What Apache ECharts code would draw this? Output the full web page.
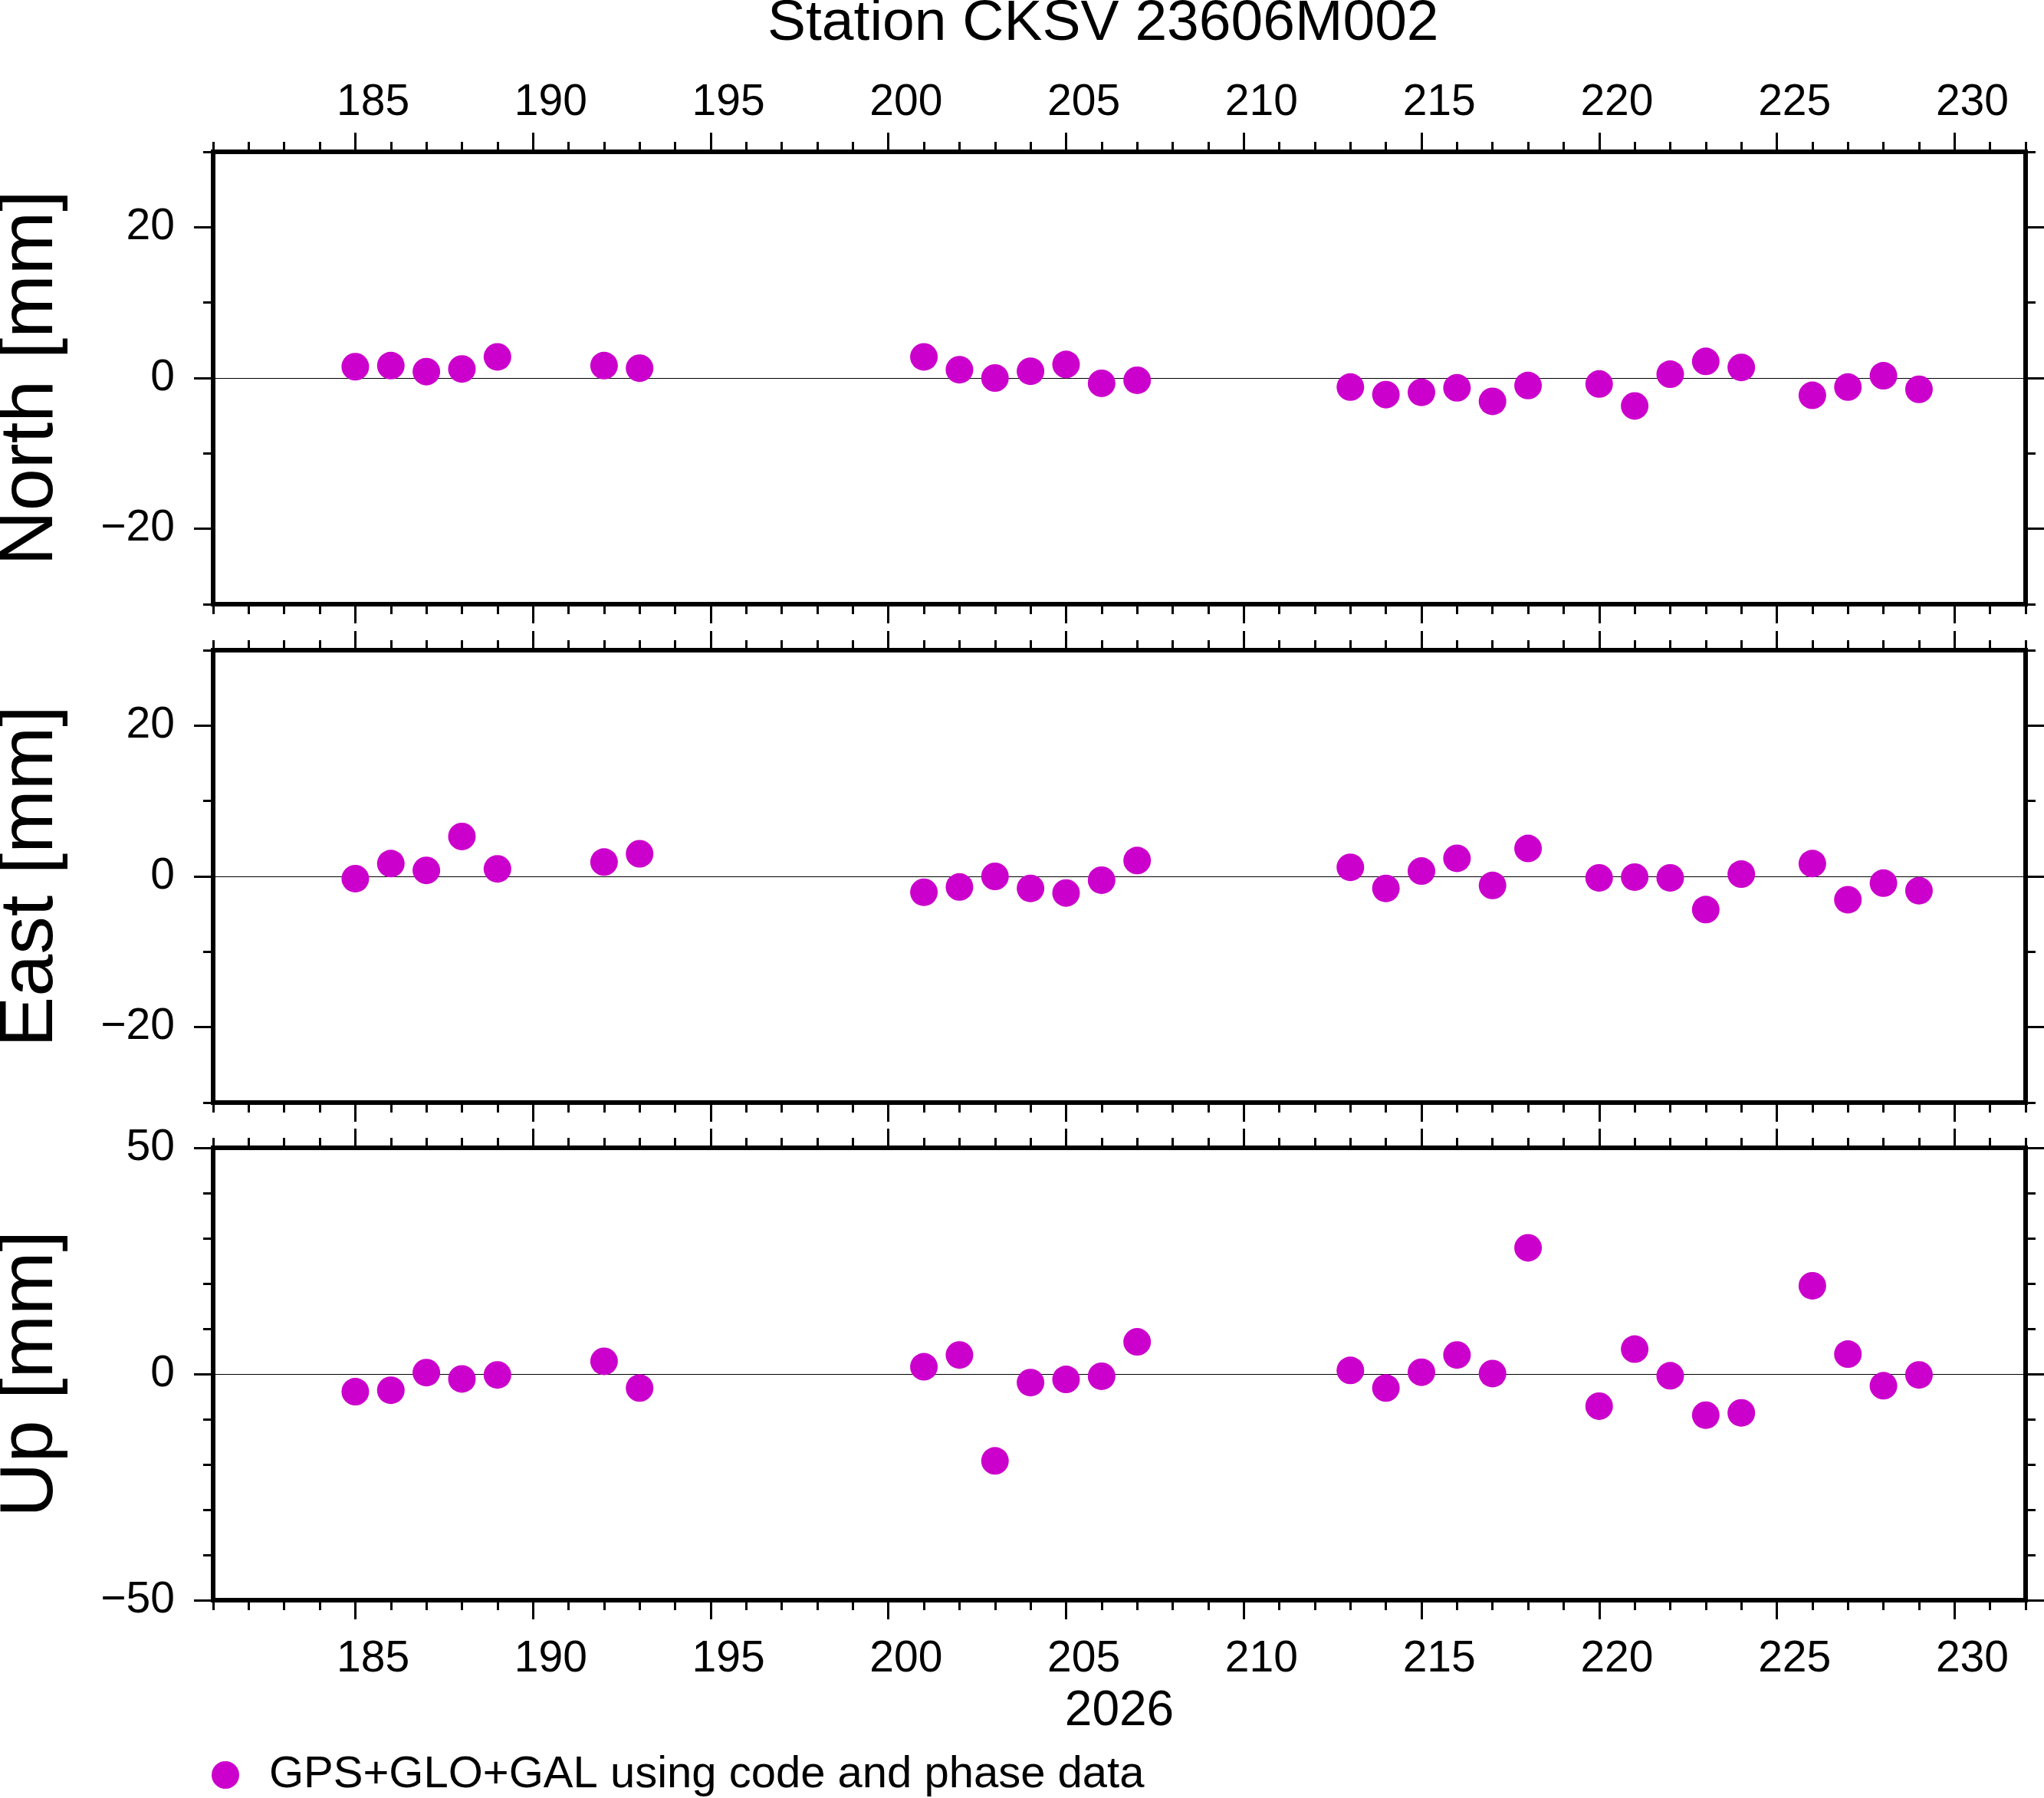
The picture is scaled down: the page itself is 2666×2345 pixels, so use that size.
<!DOCTYPE html>
<html><head><meta charset="utf-8">
<script src="https://cdn.jsdelivr.net/npm/echarts@6/dist/echarts.min.js"></script>
<style>html,body{margin:0;padding:0;background:#fff}#c{width:2666px;height:2345px}</style>
</head><body><div id="c"></div>
<script>
// ---- data ----
const days  = [185,186,187,188,189,192,193,201,202,203,204,205,206,207,213,214,215,216,217,218,220,221,222,223,224,226,227,228,229];
const north = [1.5,1.65,0.85,1.2,2.8, 1.65,1.3, 2.8,1.1,0,0.9,1.8,-0.7,-0.3, -1.2,-2.2,-1.9,-1.3,-3.1,-1.0, -0.8,-3.7,0.5,2.2,1.4, -2.3,-1.2,0.3,-1.5];
const east  = [-0.3,1.7,0.8,5.3,1.0, 1.9,3.0, -2.1,-1.4,0,-1.6,-2.2,-0.5,2.1, 1.2,-1.6,0.7,2.4,-1.2,3.7, -0.2,-0.1,-0.2,-4.4,0.3, 1.7,-3.1,-0.9,-1.9];
const up    = [-3.9,-3.6,0.3,-1.1,-0.2, 2.8,-3.1, 1.6,4.2,-19.2,-1.9,-1.2,-0.5,7.1, 0.8,-3.1,0.4,4.2,0.1,27.9, -7.1,5.5,-0.4,-9.1,-8.6, 19.5,4.4,-2.6,-0.2];
const panelNames = ['North [mm]', 'East [mm]', 'Up [mm]'];
const xRange = [181, 232];
const xMajor = [185,190,195,200,205,210,215,220,225,230];
const yRanges = [[-30,30],[-30,30],[-50,50]];
const yMajor = [[-20,0,20],[-20,0,20],[-50,0,50]];
const yMinorStep = 10;
const titleText = 'Station CKSV 23606M002';
const xName = '2026';
const legendName = 'GPS+GLO+GAL using code and phase data';

// ---- chart ----
const FONT = "'Liberation Sans', Arial, Helvetica, sans-serif";
const tickStyle = {color:'#000', width:3};
const gridTops = [198, 848, 1497];
const grids = gridTops.map(t => ({left:278, top:t, width:2364, height:590, show:true,
  borderColor:'#000', borderWidth:6, backgroundColor:'transparent', containLabel:false, outerBoundsMode:'none'}));
const fmt = v => v < 0 ? '\u2212' + Math.abs(v) : String(v);
const xAxes = [], yAxes = [], series = [];
const comps = [north, east, up];

[0,1,2].forEach(g => {
  ['bottom','top'].forEach(pos => {
    xAxes.push({type:'value', gridIndex:g, position:pos, min:xRange[0], max:xRange[1], interval:1,
      axisLine:{show:false, onZero:false}, splitLine:{show:false}, axisLabel:{show:false},
      axisTick:{show:true, inside:false, length:13, lineStyle:tickStyle}});
    const showLbl = (pos === 'top' && g === 0) || (pos === 'bottom' && g === 2);
    const ax = {type:'value', gridIndex:g, position:pos, min:xRange[0], max:xRange[1],
      axisLine:{show:false, onZero:false}, splitLine:{show:false},
      axisTick:{show:true, inside:false, length:25, lineStyle:tickStyle, customValues:xMajor},
      axisLabel:{show:showLbl, customValues:xMajor.map(d => d + 0.5), formatter:v => String(Math.floor(v)),
        margin: pos === 'top' ? 35 : 49, fontSize:57, color:'#000', fontFamily:FONT}};
    if (pos === 'bottom' && g === 2) {
      ax.name = xName; ax.nameLocation = 'middle'; ax.nameGap = 113;
      ax.nameTextStyle = {fontSize:64, color:'#000', fontFamily:FONT};
    }
    xAxes.push(ax);
  });
  ['left','right'].forEach(pos => {
    yAxes.push({type:'value', gridIndex:g, position:pos, min:yRanges[g][0], max:yRanges[g][1], interval:yMinorStep,
      axisLine:{show:false, onZero:false}, splitLine:{show:false}, axisLabel:{show:false},
      axisTick:{show:true, inside:false, length:13, lineStyle:tickStyle}});
    const ay = {type:'value', gridIndex:g, position:pos, min:yRanges[g][0], max:yRanges[g][1],
      axisLine:{show:false, onZero:false}, splitLine:{show:false},
      axisTick:{show:true, inside:false, length:25, lineStyle:tickStyle, customValues:yMajor[g]},
      axisLabel:{show:pos === 'left', customValues:yMajor[g], formatter:fmt, margin:50,
        fontSize:57, color:'#000', fontFamily:FONT}};
    if (pos === 'left') {
      ay.name = panelNames[g]; ay.nameLocation = 'middle'; ay.nameRotate = 90; ay.nameGap = 188;
      ay.nameTextStyle = {fontSize:99, color:'#000', fontFamily:FONT};
    }
    yAxes.push(ay);
  });
  series.push({type:'scatter', name:legendName, xAxisIndex:g*4, yAxisIndex:g*4,
    data: days.map((d, i) => [d, comps[g][i]]), symbol:'circle', symbolSize:36,
    itemStyle:{color:'#cc00cc', opacity:1}, z:3, emphasis:{disabled:true},
    markLine:{z:1, silent:true, symbol:['none','none'], label:{show:false}, animation:false,
      lineStyle:{color:'#000', width:1.2, type:'solid'}, data:[{yAxis:0}]}});
});

const chart = echarts.init(document.getElementById('c'), null, {renderer:'canvas'});
chart.setOption({
  animation:false,
  backgroundColor:'#fff',
  title:{text:titleText, left:1001, top:-6, padding:0,
    textStyle:{fontSize:75, fontWeight:'normal', color:'#000', fontFamily:FONT}},
  legend:{show:true, left:276, top:2286, padding:0, icon:'circle', itemWidth:36, itemHeight:36, itemGap:0,
    selectedMode:false, data:[legendName],
    textStyle:{fontSize:58, color:'#000', fontFamily:FONT, padding:[0,0,0,34]}},
  grid:grids, xAxis:xAxes, yAxis:yAxes, series:series
});
</script></body></html>
